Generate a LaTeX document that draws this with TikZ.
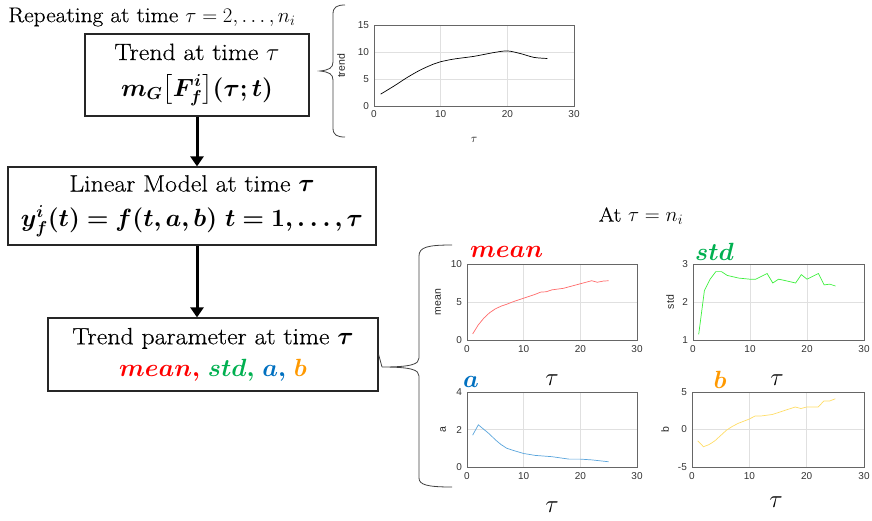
\documentclass[tikz,border=0pt]{standalone}
\usepackage{amsmath,bm}
\usepackage{fontspec}
\setsansfont{Liberation Sans}
\newfontfamily\gar{Latin Modern Roman}[FakeStretch=1.1, FakeBold=0.4]
\usetikzlibrary{arrows.meta}
\definecolor{meanc}{HTML}{FF0000}
\definecolor{stdc}{HTML}{00B050}
\definecolor{ac}{HTML}{0070C0}
\definecolor{bc}{HTML}{FF9900}
\definecolor{meanl}{HTML}{FF6B6B}
\definecolor{stdl}{HTML}{3CF03C}
\definecolor{al}{HTML}{5AA5DC}
\definecolor{bl}{HTML}{FFDD66}
\tikzset{
  stepbox/.style={draw=black!85, line width=1.2pt, inner sep=0pt, align=center,
    font=\gar\fontsize{23.5}{35}\selectfont},
  arr/.style={line width=3pt, -{Triangle[width=13pt,length=10pt]}},
  grd/.style={draw=black!12, line width=0.4pt},
  frm/.style={draw=black!60, line width=0.5pt},
  tkl/.style={font=\sffamily\fontsize{10}{11}\selectfont, text=black!80, inner sep=1.5pt},
  ylab/.style={font=\sffamily\fontsize{10.5}{11}\selectfont, text=black!85, rotate=90},
  ttl/.style={font=\fontsize{25}{26}\selectfont, inner sep=0pt},
  taul/.style={font=\fontsize{25}{26}\selectfont, inner sep=0pt},
  brc/.style={draw=black!75, line width=0.8pt},
}
\begin{document}
\begin{tikzpicture}[x=1pt,y=-1pt]
\useasboundingbox (0,0) rectangle (872,520);

% header
\node[font=\gar\fontsize{21.3}{23}\selectfont, anchor=west, inner sep=0pt] (rep) at (8,17)
  {Repeating at time $\tau = 2, \ldots, n_i$};

% boxes
\node[stepbox, minimum width=224pt, minimum height=82pt] (b1) at (197,75)
  {Trend at time $\tau$\\[1pt] {\fontsize{25}{30}\selectfont$\boldsymbol{m_G\big[F_f^i\big](\tau;t)}$}};
\node[stepbox, minimum width=368pt, minimum height=78pt] (b2) at (192,206)
  {Linear Model at time $\boldsymbol{\tau}$\\ {\fontsize{23.5}{30}\selectfont$\boldsymbol{y_f^i(t) = f(t,a,b)\ t = 1,\ldots,\tau}$}};
\node[stepbox, minimum width=330pt, minimum height=73pt] (b3) at (213,354.5)
  {Trend parameter at time $\boldsymbol{\tau}$\\[-3pt]
   {\fontsize{23.5}{30}\selectfont$\boldsymbol{\textcolor{meanc}{mean,}\ \textcolor{stdc}{std,}\ \textcolor{ac}{a,}\ \textcolor{bc}{b}}$}};

\draw[arr] (b1.south) -- (b1.south |- b2.north);
\draw[arr] (b2.south -| b1.south) -- (b1.south |- b3.north);

% small brace near trend plot
\coordinate (s1) at (320,71);
\draw[brc] (345,5) .. controls (337,5) and (333,7) .. (333,14) -- (333,62)
  .. controls (333,68) and (329,70) .. (s1)
  .. controls (329,72) and (333,74) .. (333,80) -- (333,128)
  .. controls (333,135) and (337,137) .. (345,137);

% big brace
\coordinate (s2) at (382,367);
\draw[brc] (452,245) .. controls (428,245) and (419,247) .. (419,256) -- (419,358)
  .. controls (419,364) and (412,367) .. (s2)
  .. controls (412,367) and (419,370) .. (419,376) -- (419,478)
  .. controls (419,485) and (428,487) .. (452,487);
\draw[brc] (b3.east) -- (s2);

% trend plot
\begin{scope}[shift={(374,106)}, xscale=6.6667, yscale=-5.4]
  \foreach \x in {10,20} \draw[grd] (\x,0) -- (\x,15);
  \foreach \y in {5,10} \draw[grd] (0,\y) -- (30,\y);
  \draw[frm] (0,0) rectangle (30,15);
  \foreach \x in {0,10,20,30} \node[tkl, anchor=north] (trx\x) at (\x,-0.6) {\x};
  \foreach \y in {0,5,10,15} \node[tkl, anchor=east] (try\y) at (-0.5,\y) {\y};
  \draw[black, line width=0.7pt] plot[smooth] coordinates {(1,2.2) (3,3.7) (5,5.3) (7,6.7) (9,7.8) (10,8.2) (12,8.7) (15,9.2) (18,9.9) (20,10.2) (22,9.7) (24,9.0) (26,8.8)};
\end{scope}
\node[ylab] (trl) at (341,66) {trend};
\node[font=\fontsize{12}{13}\selectfont, inner sep=0pt] (trt) at (474,140) {$\tau$};

% mean plot
\begin{scope}[shift={(467,340)}, xscale=5.6667, yscale=-7.6]
  \foreach \x in {10,20} \draw[grd] (\x,0) -- (\x,10);
  \draw[grd] (0,5) -- (30,5);
  \draw[frm] (0,0) rectangle (30,10);
  \foreach \x in {0,10,20,30} \node[tkl, anchor=north] (mx\x) at (\x,-0.5) {\x};
  \foreach \y in {0,5,10} \node[tkl, anchor=east] (my\y) at (-0.6,\y) {\y};
  \draw[meanl, line width=0.7pt] plot coordinates {(1,0.8) (2,2.0) (3,2.9) (4,3.6) (5,4.1) (6,4.45) (7,4.7) (8,5.0) (10,5.5) (12,6.0) (13,6.3) (14,6.35) (15,6.6) (17,6.8) (18,7.0) (20,7.4) (22,7.8) (23,7.6) (24,7.75) (25,7.8)};
\end{scope}
\node[ylab] (ml) at (438,302) {mean};
\node[ttl, text=meanc, anchor=west] (tmean) at (470,252) {$\boldsymbol{mean}$};
\node[taul] (taum) at (552,380) {$\tau$};

% std plot
\begin{scope}[shift={(693,378)}, xscale=5.7, yscale=-38]
  \foreach \x in {10,20} \draw[grd] (\x,1) -- (\x,3);
  \draw[grd] (0,2) -- (30,2);
  \draw[frm] (0,1) rectangle (30,3);
  \foreach \x in {0,10,20,30} \node[tkl, anchor=north] (sx\x) at (\x,0.9) {\x};
  \foreach \y in {1,2,3} \node[tkl, anchor=east] (sy\y) at (-0.6,\y) {\y};
  \draw[stdl, line width=0.7pt] plot coordinates {(1,1.15) (2,2.3) (3,2.6) (4,2.8) (5,2.8) (6,2.7) (8,2.63) (10,2.6) (11,2.6) (13,2.75) (14,2.5) (15,2.6) (16,2.57) (18,2.5) (19,2.72) (20,2.6) (22,2.75) (23,2.45) (24,2.47) (25,2.42)};
\end{scope}
\node[ylab] (sl) at (670,302) {std};
\node[ttl, text=stdc, anchor=west] (tstd) at (695,252) {$\boldsymbol{std}$};
\node[taul] (taus) at (777,380) {$\tau$};

% a plot
\begin{scope}[shift={(467,467)}, xscale=5.6667, yscale=-18.75]
  \foreach \x in {10,20} \draw[grd] (\x,0) -- (\x,4);
  \draw[grd] (0,2) -- (30,2);
  \draw[frm] (0,0) rectangle (30,4);
  \foreach \x in {0,10,20,30} \node[tkl, anchor=north] (ax\x) at (\x,-0.2) {\x};
  \foreach \y in {0,2,4} \node[tkl, anchor=east] (ay\y) at (-0.6,\y) {\y};
  \draw[al, line width=0.7pt] plot coordinates {(1,1.7) (2,2.25) (3,2.0) (4,1.75) (5,1.45) (6,1.2) (7,1.0) (8,0.9) (10,0.72) (12,0.62) (15,0.55) (18,0.42) (20,0.42) (22,0.38) (25,0.28)};
\end{scope}
\node[ylab] (al) at (443,430) {a};
\node[ttl, text=ac] (ta) at (471,382) {$\boldsymbol{a}$};
\node[taul] (taua) at (552,507) {$\tau$};

% b plot
\begin{scope}[shift={(692,429.5)}, xscale=5.7333, yscale=-7.5]
  \foreach \x in {10,20} \draw[grd] (\x,-5) -- (\x,5);
  \draw[grd] (0,0) -- (30,0);
  \draw[frm] (0,-5) rectangle (30,5);
  \foreach \x in {0,10,20,30} \node[tkl, anchor=north] (bx\x) at (\x,-5.5) {\x};
  \foreach \y in {-5,0,5} \node[tkl, anchor=east] (by\y) at (-0.6,\y) {\y};
  \draw[bl, line width=0.7pt] plot coordinates {(1,-1.5) (2,-2.3) (3,-2.0) (4,-1.5) (5,-0.8) (6,-0.1) (7,0.4) (8,0.8) (10,1.4) (11,1.8) (12,1.8) (13,1.9) (14,2.0) (16,2.5) (18,3.0) (19,2.8) (20,3.0) (22,3.0) (23,3.8) (24,3.8) (25,4.1)};
\end{scope}
\node[ylab] (blab) at (665,430) {b};
\node[ttl, text=bc] (tb) at (720,380) {$\boldsymbol{b}$};
\node[taul] (taub) at (776,502) {$\tau$};

% At tau = n_i
\node[font=\gar\fontsize{20}{22}\selectfont, inner sep=0pt] (at) at (641,216) {At $\tau = n_i$};
\end{tikzpicture}
\end{document}
